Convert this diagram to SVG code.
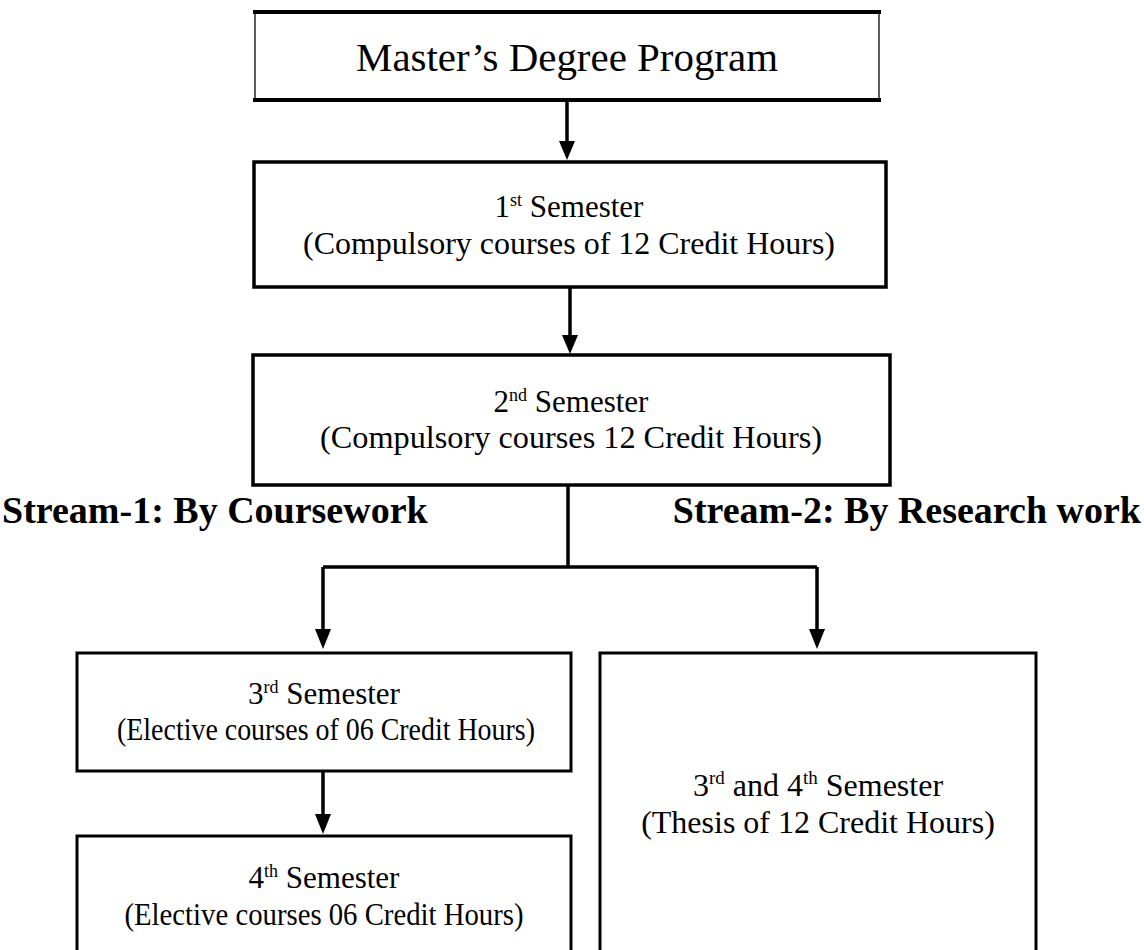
<svg xmlns="http://www.w3.org/2000/svg" width="1144" height="950" viewBox="0 0 1144 950">
<defs>
<style>
.box{fill:#fff;stroke:#000;stroke-width:3.5}
.box2{fill:#fff;stroke:#000;stroke-width:3}
.t{font-family:"Liberation Serif","Times New Roman",serif;fill:#000;text-anchor:middle}
.b{font-family:"Liberation Serif","Times New Roman",serif;fill:#000;font-weight:bold;font-size:38px}
.ln{fill:none;stroke:#000;stroke-width:3.5}
.ah{fill:#000}
</style>
</defs>
<rect width="1144" height="950" fill="#fff"/>
<g id="connectors">
<path class="ln" d="M567,100 V142"/>
<polygon class="ah" points="559,141 575,141 567,160"/>
<path class="ln" d="M570,287 V336"/>
<polygon class="ah" points="562,335 578,335 570,354"/>
<path class="ln" d="M568,485 V567 M323,567 H817 M323,567 V630 M817,567 V630"/>
<polygon class="ah" points="315,629 331,629 323,649"/>
<polygon class="ah" points="809,629 825,629 817,649"/>
<path class="ln" d="M323,771 V815"/>
<polygon class="ah" points="315,814 331,814 323,834"/>
</g>
<g id="n-master">
<rect x="255" y="12" width="624" height="88" fill="#fff" stroke="#333" stroke-width="1.6"/>
<path d="M253,12 H881 M253,100 H881" stroke="#000" stroke-width="4" fill="none"/>
<text class="t" x="567" y="71" font-size="40" textLength="422" lengthAdjust="spacingAndGlyphs">Master’s Degree Program</text>
</g>
<g id="n-sem1">
<rect class="box" x="254" y="162" width="632" height="125"/>
<text class="t" x="569" y="217" font-size="31">1<tspan font-size="18" dy="-11">st</tspan><tspan dy="11"> Semester</tspan></text>
<text class="t" x="569" y="254" font-size="32" textLength="532" lengthAdjust="spacingAndGlyphs">(Compulsory courses of 12 Credit Hours)</text>
</g>
<g id="n-sem2">
<rect class="box" x="253" y="355" width="637" height="130"/>
<text class="t" x="571" y="412" font-size="31">2<tspan font-size="18" dy="-11">nd</tspan><tspan dy="11"> Semester</tspan></text>
<text class="t" x="571" y="448" font-size="32" textLength="502" lengthAdjust="spacingAndGlyphs">(Compulsory courses 12 Credit Hours)</text>
</g>
<g id="labels">
<text class="b" x="2" y="523">Stream-1: By Coursework</text>
<text class="b" x="1141" y="523" text-anchor="end">Stream-2: By Research work</text>
</g>
<g id="n-sem3">
<rect class="box2" x="77" y="653" width="494" height="118"/>
<text class="t" x="324" y="704" font-size="31">3<tspan font-size="18" dy="-11">rd</tspan><tspan dy="11"> Semester</tspan></text>
<text class="t" x="326" y="740" font-size="31" textLength="418" lengthAdjust="spacingAndGlyphs">(Elective courses of 06 Credit Hours)</text>
</g>
<g id="n-sem4">
<rect class="box2" x="77" y="836" width="494" height="130"/>
<text class="t" x="324" y="888" font-size="31">4<tspan font-size="18" dy="-11">th</tspan><tspan dy="11"> Semester</tspan></text>
<text class="t" x="324" y="925" font-size="31" textLength="399" lengthAdjust="spacingAndGlyphs">(Elective courses 06 Credit Hours)</text>
</g>
<g id="n-thesis">
<rect class="box2" x="600" y="653" width="436" height="320"/>
<text class="t" x="818" y="796" font-size="32">3<tspan font-size="19" dy="-12">rd</tspan><tspan dy="12"> and 4</tspan><tspan font-size="19" dy="-12">th</tspan><tspan dy="12"> Semester</tspan></text>
<text class="t" x="818" y="833" font-size="32">(Thesis of 12 Credit Hours)</text>
</g>
</svg>
